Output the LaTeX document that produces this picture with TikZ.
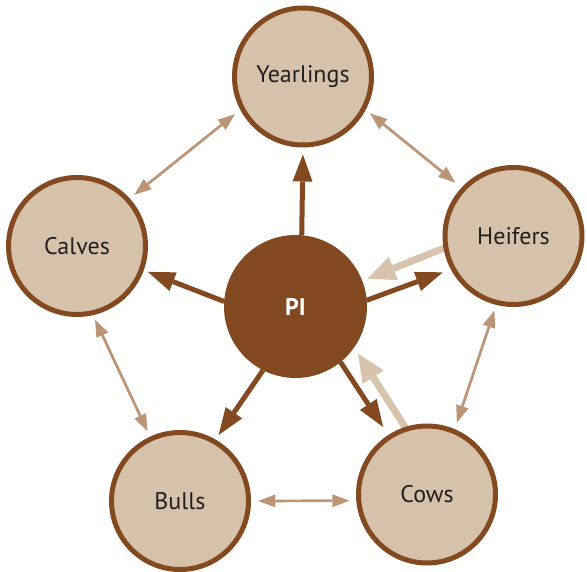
\documentclass[tikz,border=0pt]{standalone}
\usepackage{fontspec}
\setmainfont{PT Sans}
\usetikzlibrary{arrows.meta}
\definecolor{brn}{HTML}{834A21}
\definecolor{tanfill}{HTML}{D6C1AA}
\definecolor{thinc}{HTML}{BB9576}
\definecolor{ltc}{HTML}{D8C4AD}
\definecolor{txt}{HTML}{231F20}
\pgfdeclarelayer{bg}
\pgfsetlayers{bg,main}
\tikzset{
  grp/.style={circle, draw=brn, fill=tanfill, line width=5pt, minimum size=137pt,
    inner sep=0pt, outer sep=2.5pt, text=txt, font=\fontsize{24}{28}\selectfont},
  pinode/.style={circle, fill=brn, minimum size=143pt, inner sep=0pt, outer sep=0pt,
    text=white, font=\fontsize{24}{28}\selectfont\bfseries},
  darkarr/.style={draw=brn, line width=5pt,
    -{Triangle[length=27pt,width=20pt,line width=0pt]}},
  lightarr/.style={draw=ltc, line width=7pt,
    -{Triangle[length=28pt,width=25pt,line width=0pt]}},
  thinarr/.style={draw=thinc, line width=2.7pt,
    {Triangle[length=17pt,width=13pt,line width=0pt]}-{Triangle[length=17pt,width=13pt,line width=0pt]}}
}
\begin{document}
\begin{tikzpicture}[x=1pt,y=-1pt]
\useasboundingbox (0,0) rectangle (587,572);
\node[grp] (yr) at (303,76.5) {Yearlings};
\node[grp] (cal) at (77,246) {Calves};
\node[grp] (hf) at (513.5,236) {Heifers};
\node[grp] (bu) at (180,501) {Bulls};
\node[grp] (cw) at (427,494.5) {Cows};
\node[pinode] (pi) at (295.5,306.5) {PI};
% dark arrows from PI
\draw[darkarr, shorten >=7pt] (pi.85) -- (yr.270);
\draw[darkarr, shorten >=4.5pt] (pi.176) -- (cal.340);
\draw[darkarr, shorten >=8.5pt] (pi.5) -- (hf.208);
\draw[darkarr, shorten >=5.5pt] (pi.243) -- (bu.60);
\draw[darkarr, shorten >=9.5pt] (pi.309) -- (cw.123);
% light arrows to PI
\begin{pgfonlayer}{bg}
\draw[lightarr, shorten <=-6pt, shorten >=5.5pt] (hf.190) -- (pi.21);
\draw[lightarr, shorten <=-6pt, shorten >=7.3pt] (cw.108) -- (pi.325);
\end{pgfonlayer}
% thin double arrows
\draw[thinarr, shorten <=6pt, shorten >=7pt] (cal.42) -- (yr.208);
\draw[thinarr, shorten <=5.7pt, shorten >=8pt] (yr.332) -- (hf.137);
\draw[thinarr, shorten <=5pt, shorten >=6pt] (cal.283) -- (bu.115);
\draw[thinarr, shorten <=6pt, shorten >=7pt] (hf.256) -- (cw.67);
\draw[thinarr, shorten <=7.3pt, shorten >=7pt] (bu.0) -- (cw.185);
\end{tikzpicture}
\end{document}
